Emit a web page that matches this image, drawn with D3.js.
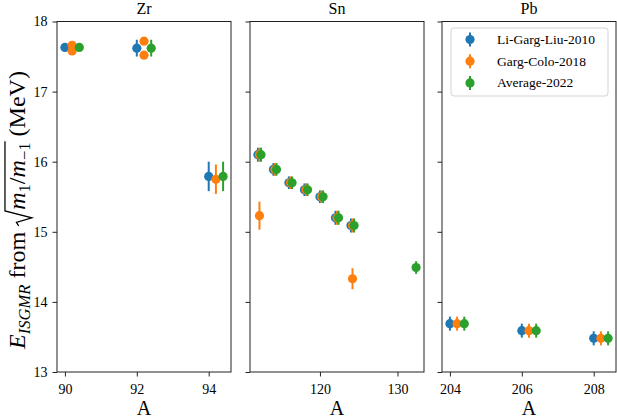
<!DOCTYPE html>
<html>
<head>
<meta charset="utf-8">
<script src="https://cdn.jsdelivr.net/npm/d3@7"></script>
<style>
body { margin: 0; background: #fff; }
text { font-family: "Liberation Serif", "Times New Roman", serif; fill: #000; }
</style>
</head>
<body>
<div id="container"></div>
<script>

var seriesNames = ["Li-Garg-Liu-2010", "Garg-Colo-2018", "Average-2022"];
var colors = ["#1f77b4", "#ff7f0e", "#2ca02c"];
var panelNames = ["Zr", "Sn", "Pb"];

// Li-Garg-Liu-2010
var liA   = [90, 92, 94, 112, 114, 116, 118, 120, 122, 124, 204, 206, 208];
var liE   = [17.63, 17.62, 15.79, 16.10, 15.89, 15.70, 15.60, 15.50, 15.20, 15.09, 13.69, 13.59, 13.48];
var liErr = [0.05, 0.12, 0.21, 0.10, 0.09, 0.09, 0.09, 0.09, 0.10, 0.10, 0.10, 0.10, 0.10];

// Garg-Colo-2018
var gcA   = [90, 90, 92, 92, 94, 112, 112, 114, 116, 118, 120, 122, 124, 124, 204, 206, 208];
var gcE   = [17.66, 17.58, 17.72, 17.52, 15.75, 16.10, 15.23, 15.89, 15.70, 15.60, 15.50, 15.20, 15.09, 14.33, 13.69, 13.59, 13.48];
var gcErr = [0.04, 0.04, 0.05, 0.05, 0.21, 0.10, 0.20, 0.09, 0.09, 0.09, 0.09, 0.10, 0.10, 0.15, 0.10, 0.10, 0.10];

// Average-2022
var avA   = [90, 92, 94, 112, 114, 116, 118, 120, 122, 124, 132, 204, 206, 208];
var avE   = [17.63, 17.62, 15.79, 16.10, 15.89, 15.70, 15.60, 15.50, 15.20, 15.09, 14.49, 13.69, 13.59, 13.48];
var avErr = [0.05, 0.12, 0.21, 0.10, 0.09, 0.09, 0.09, 0.09, 0.10, 0.10, 0.09, 0.10, 0.10, 0.10];

var xTicks = [[90, 92, 94], [120, 130], [204, 206, 208]];
var yTicks = [13, 14, 15, 16, 17, 18];

var width = 617, height = 418;
var plotTop = 21.5, plotBottom = 372;
var panelLeft = [57, 250, 442], panelWidth = 174;
var dodge = [0, 0.2, 0.4];
var serif = "Liberation Serif, Times New Roman, serif";

var svg = d3.select("#container").append("svg")
	.attr("width", width)
	.attr("height", height);

var y = d3.scaleLinear().domain([13, 18]).range([plotBottom, plotTop]);

var series = [
	{A: liA, E: liE, err: liErr},
	{A: gcA, E: gcE, err: gcErr},
	{A: avA, E: avE, err: avErr}
];

function panelOf(a) {
	if (a < 100) return 0;
	if (a < 150) return 1;
	return 2;
}

panelNames.forEach(function(name, k) {
	var pts = [];
	series.forEach(function(s, si) {
		s.A.forEach(function(a, i) {
			if (panelOf(a) === k) pts.push({x: a + dodge[si], e: s.E[i], err: s.err[i], si: si});
		});
	});
	var ext = d3.extent(pts, d => d.x);
	var pad = (ext[1] - ext[0]) * 0.05;
	var x = d3.scaleLinear()
		.domain([ext[0] - pad, ext[1] + pad])
		.range([panelLeft[k], panelLeft[k] + panelWidth]);

	var g = svg.append("g");

	var xa = g.append("g")
		.attr("transform", "translate(0," + plotBottom + ")")
		.call(d3.axisBottom(x).tickValues(xTicks[k]).tickSize(4.5).tickPadding(8).tickFormat(d3.format("d")));
	var ya = g.append("g")
		.attr("transform", "translate(" + panelLeft[k] + ",0)")
		.call(d3.axisLeft(y).tickValues(yTicks).tickSize(4.5).tickPadding(5)
			.tickFormat(k === 0 ? d3.format("d") : ""));
	[xa, ya].forEach(function(a) {
		a.attr("font-family", serif).attr("font-size", 14);
		a.select(".domain").remove();
		a.selectAll("line").attr("stroke", "#222").attr("stroke-width", 1);
		a.selectAll("text").style("font-size", "14px").style("font-family", serif);
	});

	g.append("rect")
		.attr("x", panelLeft[k])
		.attr("y", plotTop)
		.attr("width", panelWidth)
		.attr("height", plotBottom - plotTop)
		.attr("fill", "none")
		.attr("stroke", "#222")
		.attr("stroke-width", 1);

	g.append("text")
		.attr("x", panelLeft[k] + panelWidth / 2)
		.attr("y", 13.5)
		.attr("text-anchor", "middle")
		.style("font-size", "16px")
		.text(name);

	var pg = g.selectAll(".pt")
		.data(pts)
		.enter()
		.append("g")
		.attr("class", "pt");
	pg.append("line")
		.attr("x1", d => x(d.x)).attr("x2", d => x(d.x))
		.attr("y1", d => y(d.e - d.err)).attr("y2", d => y(d.e + d.err))
		.attr("stroke", d => colors[d.si])
		.attr("stroke-width", 2);
	pg.append("circle")
		.attr("cx", d => x(d.x))
		.attr("cy", d => y(d.e))
		.attr("r", 4.6)
		.attr("fill", d => colors[d.si]);
});

// legend
var lg = svg.append("g").attr("transform", "translate(451,28)");
lg.append("rect")
	.attr("width", 157).attr("height", 68)
	.attr("rx", 3)
	.attr("fill", "#fff").attr("fill-opacity", 0.8)
	.attr("stroke", "#d4d4d4");
seriesNames.forEach(function(n, i) {
	var yy = 11.5 + i * 21.7;
	lg.append("line")
		.attr("x1", 19).attr("x2", 19)
		.attr("y1", yy - 7).attr("y2", yy + 7)
		.attr("stroke", colors[i]).attr("stroke-width", 2);
	lg.append("circle").attr("cx", 19).attr("cy", yy).attr("r", 4.6).attr("fill", colors[i]);
	lg.append("text")
		.attr("x", 46).attr("y", yy + 4.5)
		.style("font-size", "13.5px")
		.text(n);
});

// x label
panelNames.forEach(function(n, k) {
	svg.append("text")
		.attr("x", panelLeft[k] + panelWidth / 2)
		.attr("y", 415)
		.attr("text-anchor", "middle")
		.style("font-size", "20px")
		.text("A");
});

// y label: E_ISGMR from sqrt(m1/m-1) (MeV)
var yl = svg.append("g");
var fs = 21, sfs = 14.5;
var parts = [
	{t: "E", it: true, s: fs, dy: 0},
	{t: "ISGMR", it: true, s: sfs, dy: 4.5},
	{t: "\u00a0from\u00a0", it: false, s: fs, dy: 0},
	{rad: true},
	{t: "m", it: true, s: fs, dy: 0, ov: true},
	{t: "1", it: false, s: sfs, dy: 4.5, ov: true},
	{t: "/", it: false, s: fs, dy: 0, ov: true},
	{t: "m", it: true, s: fs, dy: 0, ov: true},
	{t: "\u22121", it: false, s: sfs, dy: 4.5, ov: true},
	{t: "\u00a0(MeV)", it: false, s: fs, dy: 0}
];
var cur = 0, radX = 0, ovEnd = 0;
parts.forEach(function(p) {
	if (p.rad) {
		radX = cur;
		cur += 14;
		return;
	}
	var t = yl.append("text")
		.attr("x", cur).attr("y", p.dy)
		.style("font-size", p.s + "px")
		.style("font-style", p.it ? "italic" : "normal")
		.text(p.t);
	var w = t.node().getComputedTextLength();
	if (p.ov) ovEnd = cur + w;
	cur += w;
});
yl.append("path")
	.attr("d", "M" + radX + ",-5.5 L" + (radX + 3) + ",-7.5 L" + (radX + 7) + ",6 L" + (radX + 13) + ",-17.5 L" + (ovEnd + 1) + ",-17.5")
	.attr("fill", "none")
	.attr("stroke", "#000")
	.attr("stroke-width", 1.1);
// stretch the label to the length it has in the reference (about 278 px)
var fit = 278 / cur;
yl.attr("transform", "translate(25,210) rotate(-90) scale(" + fit + ") translate(" + (-cur / 2) + ",0)");

</script>
</body>
</html>
